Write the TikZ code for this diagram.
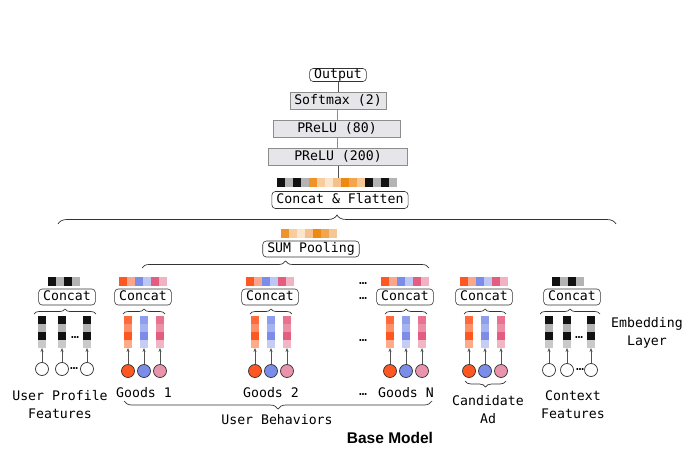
\documentclass[tikz,border=0pt]{standalone}
\usepackage{fontspec}
\newfontfamily\diafont{DejaVu Sans Mono}
\newfontfamily\titlefont{Liberation Sans}
\usetikzlibrary{arrows.meta,decorations.pathreplacing}

\definecolor{ink}{HTML}{333333}
\definecolor{layerfill}{HTML}{E6E6EA}
\definecolor{layerline}{HTML}{8C8C8C}
\definecolor{cellblack}{HTML}{111111}
\definecolor{cellgray}{HTML}{B4B4B4}
\definecolor{cellpale}{HTML}{C9C9C9}
\definecolor{pool1}{HTML}{F0922A}
\definecolor{pool2}{HTML}{F8CD9E}
\definecolor{pool3}{HTML}{FCE5CD}
\definecolor{pool4}{HTML}{F5C08A}
\definecolor{pool5}{HTML}{EE8A12}
\definecolor{pool6}{HTML}{F2A54E}
\definecolor{pool7}{HTML}{F6C793}
\definecolor{gs1}{HTML}{FF5722}
\definecolor{gs2}{HTML}{F9A68B}
\definecolor{gs3}{HTML}{7B8DE8}
\definecolor{gs4}{HTML}{BEC6F3}
\definecolor{gs5}{HTML}{E35D80}
\definecolor{gs6}{HTML}{F1B2C4}
\definecolor{or1}{HTML}{FF6A3D}
\definecolor{or2}{HTML}{FF8F66}
\definecolor{or3}{HTML}{FF5722}
\definecolor{or4}{HTML}{FFAB8A}
\definecolor{bl1}{HTML}{8E9DEC}
\definecolor{bl2}{HTML}{A6B3F1}
\definecolor{bl3}{HTML}{7B8DE8}
\definecolor{bl4}{HTML}{C5CDF5}
\definecolor{pk1}{HTML}{E8728F}
\definecolor{pk2}{HTML}{EC90A8}
\definecolor{pk3}{HTML}{E35D80}
\definecolor{pk4}{HTML}{F2B5C6}
\definecolor{cor}{HTML}{FF5722}
\definecolor{cbl}{HTML}{7B8DE8}
\definecolor{cpk}{HTML}{E994AC}

\begin{document}
\begin{tikzpicture}%
	[	x={(1pt,0pt)},
	y={(0pt,-1pt)},
	font=\diafont\fontsize{13.2}{18}\selectfont,
	box/.style={draw=ink, line width=0.6pt, rounded corners=3.5pt, fill=white, inner xsep=4.5pt, inner ysep=0pt, minimum height=16pt, text height=9.5pt, text depth=2.5pt},
	layer/.style={draw=layerline, fill=layerfill, line width=0.6pt, inner sep=0pt, minimum height=17pt, text height=9.5pt, text depth=2.5pt},
	link/.style={draw=ink!85, line width=0.5pt},
	feed/.style={link, -{Stealth[length=4pt,width=3pt]}},
	curly/.style={draw=ink, line width=0.7pt, decorate, decoration={brace, amplitude=#1}},
	downcurly/.style={curly=#1, decoration={mirror}},
	idcircle/.style={circle, draw=ink, line width=0.7pt, minimum size=13pt, inner sep=0pt, fill=white},
	gap/.style={inner sep=0pt},
	tag/.style={align=center, inner sep=0pt}]

\useasboundingbox (0,0) rectangle (688,460);

\node[box, minimum height=13pt] (out) at (338,75) {Output};
\node[layer, minimum width=96pt] (soft) at (338,101) {Softmax (2)};
\node[layer, minimum width=127pt] (p80) at (337,129) {PReLU (80)};
\node[layer, minimum width=139pt] (p200) at (338,157) {PReLU (200)};
\coordinate (flattop) at (338,178);

\draw[link] (out) -- (soft);
\draw[link] (soft) -- (p80);
\draw[link] (p80) -- (p200);
\draw[link] (p200) -- (flattop);

\foreach \c [count=\i from 0] in {cellblack,cellgray,cellblack,cellgray,pool1,pool2,pool3,pool4,pool5,pool6,pool7,cellblack,cellgray,cellblack,cellgray}
	\fill[\c] (277+8*\i,178) rectangle ++(8,9);
\node[box, minimum height=17pt] (flat) at (340,200) {Concat \& Flatten};
\draw[curly=9pt] (58,224) -- (616,224);

\foreach \c [count=\i from 0] in {pool1,pool2,pool3,pool4,pool5,pool6,pool7}
	\fill[\c] (281+8*\i,229) rectangle ++(8,9);
\node[box] (sum) at (311,249) {SUM Pooling};
\draw[curly=7pt] (142,268) -- (429,268);

\foreach \c [count=\i from 0] in {cellblack,cellgray,cellblack,cellgray}
	\fill[\c] (48+8*\i,277) rectangle ++(8,9);
\node[box] (concat-prof) at (67,297) {Concat};
\draw[curly=5pt] (34,314) -- (96,314);
\foreach \ex/\k in {38/1,58/2,83/3} {
	\fill[cellblack] (\ex,316) rectangle ++(8,8);
	\fill[cellgray] (\ex,324) rectangle ++(8,8);
	\fill[cellblack] (\ex,332) rectangle ++(8,8);
	\fill[cellpale] (\ex,340) rectangle ++(8,8);
	\coordinate (emb-prof\k) at (\ex+4,348);
	\node[idcircle] (id-prof\k) at (\ex+4,369) {};
	\draw[feed] (id-prof\k) -- (emb-prof\k);
}
\node[gap] (dots-profa) at (75,338) {…};
\node[gap] (dots-profb) at (74,369) {…};

\foreach \gx/\gn in {124/goodsa,251/goodsb,386/goodsn,465/cand} {
	\foreach \c [count=\i from 0] in {gs1,gs2,gs3,gs4,gs5,gs6}
		\fill[\c] (\gx-5+8*\i,277) rectangle ++(8,9);
	\node[box] (concat-\gn) at (\gx+19,297) {Concat};
	\draw[curly=5pt] (\gx-1,314) -- (\gx+41,314);
	\foreach \dx/\k/\ca/\cb/\cc/\cd/\cf in {0/1/or1/or2/or3/or4/cor,16/2/bl1/bl2/bl3/bl4/cbl,32/3/pk1/pk2/pk3/pk4/cpk} {
		\fill[\ca] (\gx+\dx,316) rectangle ++(8,8);
		\fill[\cb] (\gx+\dx,324) rectangle ++(8,8);
		\fill[\cc] (\gx+\dx,332) rectangle ++(8,8);
		\fill[\cd] (\gx+\dx,340) rectangle ++(8,8);
		\coordinate (emb-\gn\k) at (\gx+\dx+4,348);
		\node[idcircle, fill=\cf] (id-\gn\k) at (\gx+\dx+4,371) {};
		\draw[feed] (id-\gn\k) -- (emb-\gn\k);
	}
}
\node[gap] (dots-a) at (363,284) {…};
\node[gap] (dots-b) at (363,299) {…};
\node[gap] (dots-c) at (363,341) {…};
\node[gap] (dots-d) at (363,395) {…};
\draw[downcurly=6pt] (465,381) -- (506,381);
\draw[downcurly=8pt] (124,401) -- (432,401);

\foreach \c [count=\i from 0] in {cellblack,cellgray,cellblack,cellgray}
	\fill[\c] (552+8*\i,277) rectangle ++(8,9);
\node[box] (concat-ctx) at (572,297) {Concat};
\draw[curly=5pt] (540,314) -- (600,314);
\foreach \ex/\k in {545/1,563/2,587/3} {
	\fill[cellblack] (\ex,316) rectangle ++(8,8);
	\fill[cellgray] (\ex,324) rectangle ++(8,8);
	\fill[cellblack] (\ex,332) rectangle ++(8,8);
	\fill[cellpale] (\ex,340) rectangle ++(8,8);
	\coordinate (emb-ctx\k) at (\ex+4,348);
	\node[idcircle] (id-ctx\k) at (\ex+4,370) {};
	\draw[feed] (id-ctx\k) -- (emb-ctx\k);
}
\node[gap] (dots-ctxa) at (579,338) {…};
\node[gap] (dots-ctxb) at (580,370) {…};

\node[tag] (lab-prof) at (60,405) {User Profile\\Features};
\node[tag] (lab-ga) at (144,393) {Goods 1};
\node[tag] (lab-gb) at (271,393) {Goods 2};
\node[tag] (lab-gn) at (406,393) {Goods N};
\node[tag] (lab-beh) at (277,420) {User Behaviors};
\node[tag] (lab-cand) at (488,410) {Candidate\\Ad};
\node[tag] (lab-ctx) at (573,405) {Context\\Features};
\node[tag] (lab-emb) at (647,333) {Embedding\\Layer};
\node[tag, font=\titlefont\bfseries\fontsize{15.5}{18}\selectfont] (title) at (390,438) {Base Model};
\end{tikzpicture}
\end{document}
